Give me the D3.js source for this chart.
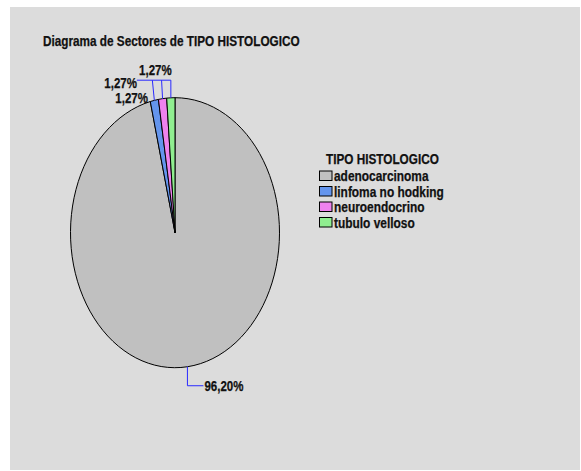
<!DOCTYPE html>
<html>
<head>
<meta charset="utf-8">
<script src="https://cdn.jsdelivr.net/npm/d3@7"></script>
<style>
  html, body { margin: 0; padding: 0; background: #ffffff; }
  svg text { font-family: "Liberation Sans", Arial, sans-serif; font-weight: bold; fill: #111; stroke: #111; stroke-width: 0.25; }
</style>
</head>
<body>
<svg id="chart" width="581" height="471"></svg>
<script>
// Histological type counts (n = 79)
const categories = ["adenocarcinoma", "linfoma no hodking", "neuroendocrino", "tubulo velloso"];
const counts = [76, 1, 1, 1];
const percentLabels = ["96,20%", "1,27%", "1,27%", "1,27%"];
const colors = ["#c0c0c0", "#6495ed", "#ee82ee", "#90ee90"];
const chartTitle = "Diagrama de Sectores de TIPO HISTOLOGICO";
const legendTitle = "TIPO HISTOLOGICO";

const svg = d3.select("#chart");

// condensed bold look: tall glyphs squeezed horizontally
const fontSize = 14;
function condense(sel, squeeze = 0.85) {
  sel.each(function () {
    const w = this.getComputedTextLength();
    d3.select(this).attr("textLength", w * squeeze).attr("lengthAdjust", "spacingAndGlyphs");
  });
  return sel;
}

// panel background
svg.append("rect").attr("x", 10).attr("y", 7).attr("width", 570).attr("height", 463)
  .attr("fill", "#dcdcdc");

// title
condense(svg.append("text").attr("x", 43).attr("y", 46).attr("font-size", fontSize).text(chartTitle), 0.84);

// elliptical pie
const cx = 175, cy = 232.7, rx = 104.5, ry = 135;
const pie = d3.pie().sort(null).value(d => d)(counts);
const arc = d3.arc().innerRadius(0).outerRadius(rx);

const pieG = svg.append("g").attr("transform", `translate(${cx},${cy}) scale(1,${ry / rx})`);
pieG.selectAll("path").data(pie).join("path")
  .attr("d", arc)
  .attr("fill", (d, i) => colors[i])
  .attr("stroke", "#000")
  .attr("stroke-width", 1)
  .attr("vector-effect", "non-scaling-stroke");

// point on the ellipse rim at a pie angle
const rim = a => [cx + rx * Math.sin(a), cy - ry * Math.cos(a)];
const mid = d => (d.startAngle + d.endAngle) / 2;

const leader = "#2a2aff";
const labels = svg.append("g");

// large slice label, below the pie
{
  const d = pie[0];
  const [x0, y0] = rim(mid(d));
  const yb = y0 + 19, xe = x0 + 16;
  labels.append("path").attr("d", `M${x0},${y0}V${yb}H${xe}`)
    .attr("fill", "none").attr("stroke", leader).attr("stroke-width", 1);
  condense(labels.append("text").attr("x", xe + 1).attr("y", yb + 5).attr("font-size", fontSize).text(percentLabels[0]), 0.82);
}

// small slices: leaders rise to a common bar above the pie
{
  const barY = cy - ry - 17.5;
  const small = pie.slice(1);
  const pts = small.map(d => rim(mid(d)));
  small.forEach((d, k) => {
    const [x0, y0] = pts[k];
    const xt = k === 0 ? x0 - 2 : (k === 1 ? x0 - 1 : x0);
    labels.append("path").attr("d", `M${x0},${y0}L${xt},${barY}`)
      .attr("fill", "none").attr("stroke", leader).attr("stroke-width", 1);
  });
  const xMax = d3.max(pts, p => p[0]);
  labels.append("path").attr("d", `M${pts[0][0] - 17.5},${barY}H${xMax}`)
    .attr("fill", "none").attr("stroke", leader).attr("stroke-width", 1);

  // label placement around the bar
  const spots = [
    [pts[0][0] - 39, cy - ry + 5.5],   // next to the blue slice
    [pts[0][0] - 50, barY + 7.5],      // left end of the bar
    [pts[1][0] - 23.5, barY - 5]       // above the bar
  ];
  small.forEach((d, k) => {
    condense(labels.append("text").attr("x", spots[k][0]).attr("y", spots[k][1])
      .attr("font-size", fontSize).text(percentLabels[k + 1]), 0.82);
  });
}

// legend
const lg = svg.append("g").attr("transform", "translate(319,164)");
condense(lg.append("text").attr("x", 7).attr("y", 0).attr("font-size", fontSize).text(legendTitle), 0.84);
const rows = lg.selectAll("g.row").data(categories).join("g")
  .attr("class", "row")
  .attr("transform", (d, i) => `translate(0,${7 + i * 15.5})`);
rows.append("rect").attr("x", 0.5).attr("y", 0).attr("width", 12.5).attr("height", 9.5)
  .attr("fill", (d, i) => colors[i]).attr("stroke", "#000").attr("stroke-width", 1);
rows.each(function (d) {
  condense(d3.select(this).append("text").attr("x", 15).attr("y", 10).attr("font-size", fontSize).text(d), 0.85);
});
</script>
</body>
</html>
